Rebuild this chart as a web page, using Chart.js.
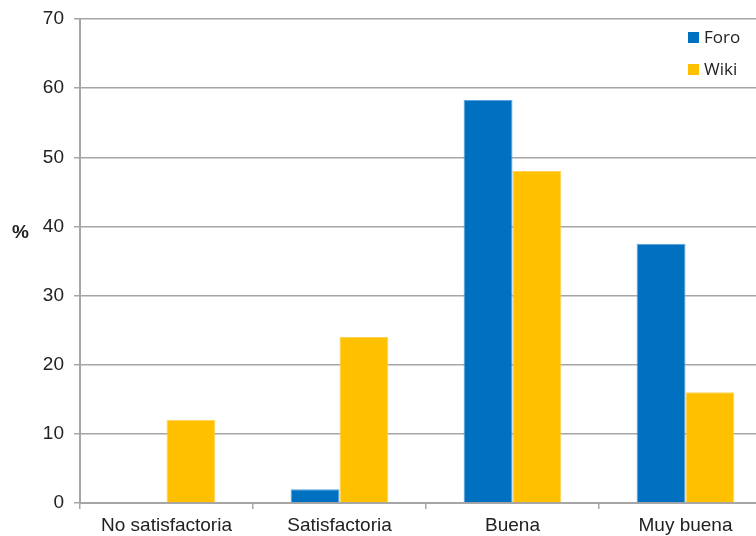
<!DOCTYPE html>
<html>
<head>
<meta charset="utf-8">
<script src="https://cdn.jsdelivr.net/npm/chart.js@4/dist/chart.umd.min.js"></script>
<style>
    html, body { margin: 0; padding: 0; background: #fff; overflow: hidden; }
    #wrap { position: relative; width: 772px; height: 536px; }
    #axis-title { position: absolute; left: 12px; top: 221px; font: bold 19px "Liberation Sans", Arial, sans-serif; color: #222; }
    #legend { position: absolute; left: 688px; top: 26px; font: 17px "Open Sans", "DejaVu Sans", sans-serif; color: #222; }
    #legend div { height: 32px; line-height: 22px; }
    #legend span { display: inline-block; width: 11px; height: 11px; margin-right: 5px; vertical-align: 0px; }
</style>
</head>
<body>
<div id="wrap">
    <canvas id="chart" width="772" height="536"></canvas>
    <div id="axis-title">%</div>
    <div id="legend"></div>
</div>
<script>
const categories = ['No satisfactoria', 'Satisfactoria', 'Buena', 'Muy buena'];
const foroValues = [0, 2, 58.3, 37.5];
const wikiValues = [12, 24, 48, 16];
const seriesNames = ['Foro', 'Wiki'];
const seriesColors = ['#0070C0', '#FFC000'];
const seriesBorders = ['#5aa2e0', '#ffd35a'];

// Legend
const legend = document.getElementById('legend');
seriesNames.forEach((name, i) => {
    const div = document.createElement('div');
    div.innerHTML = `<span style="background:${seriesColors[i]}"></span>${name}`;
    legend.appendChild(div);
});

const gridColor = '#a6a6a6';
const tickFont = { family: '"Liberation Sans", Arial, sans-serif', size: 19 };

new Chart(document.getElementById('chart').getContext('2d'), {
    type: 'bar',
    data: {
        labels: categories,
        datasets: [foroValues, wikiValues].map((values, i) => ({
            label: seriesNames[i],
            data: values,
            backgroundColor: seriesColors[i],
            borderColor: seriesBorders[i],
            borderWidth: 1,
            barPercentage: 1,
            categoryPercentage: 0.565
        }))
    },
    options: {
        responsive: false,
        animation: false,
        layout: { padding: { top: 19, left: 0, right: 0, bottom: 0 } },
        plugins: {
            legend: { display: false },
            tooltip: { enabled: false }
        },
        scales: {
            x: {
                offset: true,
                grid: {
                    offset: true,
                    drawOnChartArea: false,
                    drawTicks: true,
                    tickLength: 6,
                    color: gridColor,
                    lineWidth: 1.5
                },
                border: { color: gridColor, width: 2 },
                ticks: { font: tickFont, color: '#222', padding: 5, maxRotation: 0 },
                afterFit: scale => { scale.height = 33; }
            },
            y: {
                min: 0,
                max: 70,
                ticks: { stepSize: 10, font: tickFont, color: '#222', padding: 10 },
                grid: { color: gridColor, lineWidth: 1.5, tickLength: 6 },
                border: { color: gridColor, width: 2 },
                afterFit: scale => {
                    scale.width = 80;
                    scale.paddingTop = 0;
                    scale.paddingBottom = 0;
                }
            }
        }
    }
});
</script>
</body>
</html>
